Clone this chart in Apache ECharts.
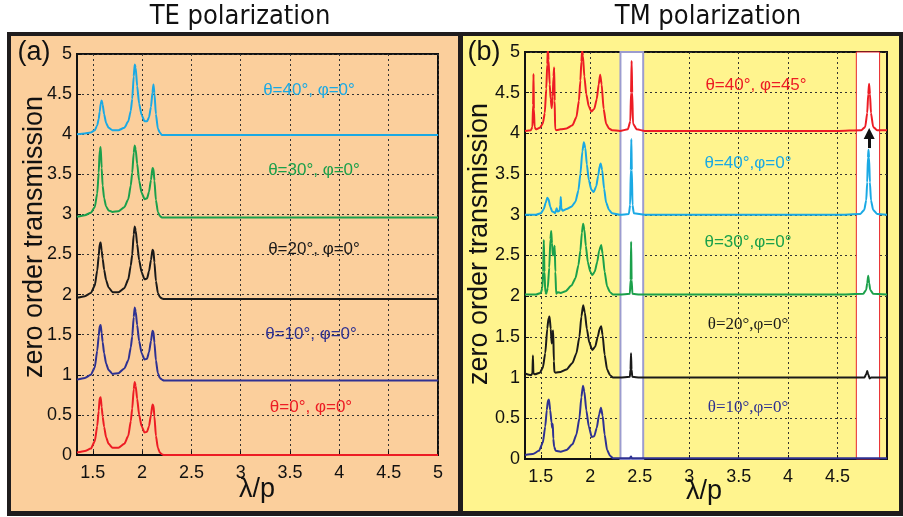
<!DOCTYPE html>
<html>
<head>
<meta charset="utf-8">
<script src="https://cdn.jsdelivr.net/npm/echarts@6/dist/echarts.min.js"></script>
<style>
  html, body { margin: 0; padding: 0; background: #fff; }
  #chart { width: 903px; height: 517px; }
</style>
</head>
<body>
<div id="chart"></div>
<script>
// ---- data ----
// tick labels
const teTicks = [1.5, 2, 2.5, 3, 3.5, 4, 4.5, 5];
const tmTicks = [1.5, 2, 2.5, 3, 3.5, 4, 4.5];

// TE panel: shared wavelength samples (lambda/p)
const teX = [1.34, 1.42, 1.48, 1.52, 1.545, 1.56, 1.57, 1.58, 1.59, 1.60, 1.615, 1.635, 1.66,
  1.70, 1.76, 1.82, 1.86, 1.885, 1.90, 1.915, 1.925, 1.935, 1.95,
  1.97, 1.995, 2.025, 2.05, 2.07, 2.09, 2.105, 2.115, 2.125, 2.14,
  2.16, 2.18, 2.20, 2.22, 2.5, 3, 3.5, 4, 4.5, 5];
const teTheta0 = [0.03, 0.05, 0.08, 0.17, 0.36, 0.55, 0.71, 0.72, 0.60, 0.48, 0.35, 0.22, 0.14,
  0.09, 0.09, 0.14, 0.24, 0.42, 0.58, 0.82, 0.91, 0.86, 0.70,
  0.50, 0.36, 0.28, 0.29, 0.36, 0.50, 0.63, 0.62, 0.48, 0.24,
  0.09, 0.03, 0.01, 0, 0, 0, 0, 0, 0, 0];
const teTheta10 = [0.94, 0.96, 1.00, 1.09, 1.30, 1.48, 1.61, 1.62, 1.52, 1.41, 1.27, 1.14, 1.06,
  1.01, 1.02, 1.08, 1.18, 1.34, 1.48, 1.72, 1.84, 1.79, 1.62,
  1.42, 1.27, 1.19, 1.20, 1.28, 1.42, 1.55, 1.54, 1.40, 1.18,
  1.02, 0.96, 0.94, 0.93, 0.93, 0.93, 0.93, 0.93, 0.93, 0.93];
const teTheta20 = [1.96, 1.98, 2.02, 2.11, 2.30, 2.48, 2.63, 2.65, 2.55, 2.45, 2.31, 2.18, 2.09,
  2.03, 2.03, 2.08, 2.19, 2.36, 2.50, 2.75, 2.85, 2.80, 2.63,
  2.43, 2.28, 2.19, 2.20, 2.29, 2.43, 2.56, 2.55, 2.40, 2.17,
  2.02, 1.97, 1.95, 1.945, 1.945, 1.945, 1.945, 1.945, 1.945, 1.945];
const teTheta30 = [2.97, 2.99, 3.02, 3.09, 3.26, 3.52, 3.80, 3.84, 3.58, 3.36, 3.20, 3.10, 3.05,
  3.03, 3.04, 3.09, 3.19, 3.36, 3.52, 3.77, 3.86, 3.81, 3.63,
  3.42, 3.27, 3.19, 3.20, 3.28, 3.43, 3.58, 3.57, 3.42, 3.18,
  3.03, 2.98, 2.96, 2.96, 2.96, 2.96, 2.96, 2.96, 2.96, 2.96];
const teTheta40 = [4.00, 4.01, 4.02, 4.05, 4.11, 4.19, 4.28, 4.38, 4.42, 4.37, 4.25, 4.14, 4.08,
  4.05, 4.05, 4.08, 4.16, 4.29, 4.44, 4.72, 4.87, 4.83, 4.60,
  4.38, 4.24, 4.16, 4.16, 4.21, 4.34, 4.52, 4.62, 4.51, 4.25,
  4.07, 4.02, 3.99, 3.99, 3.99, 3.99, 3.99, 3.99, 3.99, 3.99];

// TM panel: [lambda/p, transmission] pairs
const tmTheta10 = [[1.34,0.05],[1.42,0.06],[1.48,0.10],[1.52,0.20],[1.545,0.40],[1.56,0.60],[1.572,0.72],[1.582,0.73],
  [1.595,0.60],[1.608,0.45],[1.616,0.38],[1.621,0.43],[1.626,0.25],[1.635,0.15],[1.65,0.10],[1.70,0.09],[1.76,0.11],
  [1.82,0.18],[1.86,0.30],[1.89,0.50],[1.91,0.76],[1.926,0.90],[1.94,0.83],[1.96,0.60],[1.985,0.40],[2.015,0.27],
  [2.04,0.28],[2.065,0.38],[2.09,0.55],[2.108,0.63],[2.125,0.53],[2.145,0.30],[2.17,0.11],[2.20,0.04],[2.23,0.01],
  [2.40,0.01],[2.412,0.03],[2.42,0.01],[3.0,0.01],[4.0,0.01],[5.0,0.01]];
const tmTheta20 = [[1.34,1.05],[1.40,1.03],[1.415,1.05],[1.42,1.27],[1.425,1.05],[1.44,1.04],[1.49,1.06],[1.52,1.12],
  [1.545,1.30],[1.565,1.60],[1.578,1.73],[1.588,1.75],[1.60,1.60],[1.61,1.42],[1.618,1.55],[1.625,1.58],[1.632,1.20],
  [1.637,1.07],[1.65,1.06],[1.70,1.07],[1.76,1.10],[1.82,1.18],[1.86,1.30],[1.89,1.50],[1.91,1.75],[1.928,1.89],
  [1.945,1.80],[1.965,1.60],[1.99,1.43],[2.02,1.34],[2.05,1.38],[2.075,1.50],[2.095,1.60],[2.11,1.63],[2.125,1.52],
  [2.145,1.28],[2.17,1.10],[2.20,1.03],[2.23,1.00],[2.30,1.00],[2.40,1.01],[2.407,1.10],[2.412,1.30],[2.417,1.10],
  [2.425,1.01],[2.50,1.00],[3.0,1.00],[3.5,1.00],[4.0,1.00],[4.5,1.00],[4.77,1.00],[4.79,1.04],[4.80,1.08],
  [4.81,1.04],[4.825,0.99],[4.84,1.00],[5.0,1.00]];
const tmTheta30 = [[1.34,2.02],[1.45,2.02],[1.50,2.04],[1.515,2.10],[1.523,2.30],[1.53,2.69],[1.537,2.30],[1.545,2.05],
  [1.555,2.03],[1.57,2.10],[1.585,2.35],[1.597,2.70],[1.605,2.80],[1.613,2.65],[1.622,2.50],[1.632,2.55],[1.64,2.62],
  [1.647,2.30],[1.655,2.03],[1.67,2.05],[1.70,2.04],[1.75,2.06],[1.81,2.13],[1.85,2.22],[1.88,2.38],[1.90,2.56],
  [1.915,2.78],[1.928,2.89],[1.94,2.82],[1.955,2.62],[1.975,2.42],[2.00,2.30],[2.02,2.26],[2.045,2.30],[2.07,2.42],
  [2.09,2.56],[2.11,2.63],[2.125,2.52],[2.145,2.30],[2.17,2.12],[2.20,2.05],[2.23,2.02],[2.30,2.02],[2.40,2.03],
  [2.408,2.20],[2.413,2.67],[2.418,2.20],[2.426,2.03],[2.50,2.02],[3.0,2.02],[3.5,2.02],[4.0,2.02],[4.5,2.02],
  [4.76,2.03],[4.79,2.08],[4.80,2.16],[4.81,2.25],[4.82,2.16],[4.83,2.08],[4.86,2.03],[5.0,2.02]];
const tmTheta40 = [[1.34,3.00],[1.45,3.00],[1.50,3.02],[1.53,3.07],[1.55,3.15],[1.565,3.21],[1.578,3.19],[1.595,3.10],
  [1.615,3.04],[1.635,3.03],[1.645,3.02],[1.66,3.08],[1.67,3.04],[1.69,3.05],[1.697,3.12],[1.702,3.22],[1.707,3.08],
  [1.72,3.05],[1.76,3.07],[1.81,3.10],[1.85,3.16],[1.88,3.30],[1.90,3.50],[1.92,3.78],[1.935,3.89],[1.95,3.82],
  [1.965,3.62],[1.985,3.43],[2.01,3.31],[2.035,3.28],[2.06,3.35],[2.08,3.48],[2.095,3.60],[2.105,3.63],[2.12,3.55],
  [2.14,3.32],[2.16,3.15],[2.19,3.06],[2.22,3.02],[2.30,3.00],[2.39,3.01],[2.403,3.12],[2.41,3.55],[2.415,3.93],
  [2.42,3.55],[2.427,3.12],[2.44,3.02],[2.55,3.00],[3.0,3.00],[3.5,3.00],[4.0,3.00],[4.5,3.00],[4.73,3.01],
  [4.77,3.06],[4.79,3.18],[4.80,3.40],[4.807,3.70],[4.813,3.80],[4.819,3.70],[4.827,3.40],[4.838,3.18],[4.86,3.06],
  [4.90,3.01],[5.0,3.00]];
const tmTheta40phi45 = [[1.34,4.03],[1.40,4.04],[1.415,4.08],[1.422,4.35],[1.426,4.73],[1.430,4.30],[1.437,4.08],
  [1.45,4.05],[1.49,4.07],[1.52,4.12],[1.54,4.25],[1.555,4.55],[1.565,4.85],[1.571,5.05],[1.578,4.90],[1.59,4.60],
  [1.60,4.42],[1.61,4.31],[1.62,4.45],[1.628,4.70],[1.635,4.81],[1.640,4.40],[1.645,4.05],[1.66,4.04],[1.70,4.05],
  [1.76,4.06],[1.82,4.10],[1.86,4.20],[1.885,4.40],[1.90,4.65],[1.91,4.88],[1.918,5.02],[1.926,4.95],[1.94,4.70],
  [1.96,4.48],[1.985,4.33],[2.01,4.27],[2.04,4.30],[2.065,4.42],[2.085,4.60],[2.10,4.72],[2.115,4.60],[2.135,4.30],
  [2.16,4.12],[2.19,4.06],[2.22,4.04],[2.30,4.03],[2.38,4.05],[2.405,4.15],[2.412,4.50],[2.418,4.89],[2.424,4.50],
  [2.432,4.12],[2.47,4.05],[2.55,4.03],[3.0,4.03],[3.5,4.03],[4.0,4.03],[4.5,4.03],[4.74,4.04],[4.78,4.08],
  [4.80,4.25],[4.81,4.48],[4.819,4.61],[4.828,4.48],[4.838,4.25],[4.86,4.08],[4.90,4.04],[5.0,4.04]];

// highlighted wavelength bands and the arrow in panel (b)
const blueBand = [2.305, 2.535];
const redBand = [4.69, 4.925];
const arrowLine = [[4.82, 3.82], [4.82, 4.0]];

// ---- chart ----
const chart = echarts.init(document.getElementById('chart'), null, { renderer: 'canvas' });

const FONT = "'Liberation Sans', Arial, sans-serif";
const NARROW = "'Liberation Sans Narrow', 'DejaVu Sans Condensed', sans-serif";
const C = { red: '#ed1c24', cyan: '#1aa9e4', green: '#1ba04b', black: '#1a1a1a', navy: '#2e3192' };

const zip = (xs, ys) => xs.map((x, i) => [x, ys[i]]);

function xAx(grid, ticks) {
  return {
    type: 'value', gridIndex: grid, min: 1.34, max: 5,
    axisLine: { show: true, onZero: false, lineStyle: { color: '#111', width: 2 } },
    axisTick: { show: true, inside: true, length: 4, customValues: ticks, lineStyle: { color: '#111' } },
    axisLabel: { customValues: ticks, color: '#111', fontSize: 18, fontFamily: FONT, margin: 9 },
    splitLine: { show: true, lineStyle: { color: '#333', width: 1, type: [2, 3] } }
  };
}
function yAx(grid) {
  return {
    type: 'value', gridIndex: grid, min: 0, max: 5, interval: 0.5,
    axisLine: { show: true, lineStyle: { color: '#111', width: 2 } },
    axisTick: { show: true, inside: true, length: 4, lineStyle: { color: '#111' } },
    axisLabel: { color: '#111', fontSize: 18, fontFamily: FONT, margin: 5 },
    splitLine: { show: true, lineStyle: { color: '#333', width: 1, type: [2, 3] } }
  };
}
function line(grid, data, color, extra) {
  return Object.assign({
    type: 'line', xAxisIndex: grid, yAxisIndex: grid, data: data,
    showSymbol: false, symbol: 'none', smooth: 0.2, smoothMonotone: 'x',
    lineStyle: { color: color, width: 2 }, itemStyle: { color: color },
    silent: true, z: 3
  }, extra || {});
}

function label(x, y, text, color, family) {
  return {
    type: 'text', x: x, y: y, z: 100,
    style: { text: text, fill: color, fontSize: 17, fontFamily: family || FONT, align: 'center', verticalAlign: 'middle' }
  };
}
function bigText(x, y, text, font, rot) {
  return {
    type: 'text', x: x, y: y, z: 100, rotation: rot || 0,
    style: { text: text, fill: '#111', fontSize: 27, fontFamily: font || FONT, align: 'center', verticalAlign: 'middle' }
  };
}

const option = {
  animation: false,
  backgroundColor: '#fff',
  grid: [
    { left: 77, top: 54, width: 361, height: 401, show: true, borderColor: '#111', borderWidth: 2, backgroundColor: 'transparent', outerBoundsMode: 'none' },
    { left: 525, top: 52, width: 362, height: 407, show: true, borderColor: '#111', borderWidth: 2, backgroundColor: 'transparent', outerBoundsMode: 'none' }
  ],
  xAxis: [xAx(0, teTicks), xAx(1, tmTicks)],
  yAxis: [yAx(0), yAx(1)],
  series: [
    line(0, zip(teX, teTheta0), C.red),
    line(0, zip(teX, teTheta10), C.navy),
    line(0, zip(teX, teTheta20), C.black),
    line(0, zip(teX, teTheta30), C.green),
    line(0, zip(teX, teTheta40), C.cyan),
    {
      type: 'line', xAxisIndex: 1, yAxisIndex: 1, data: [], silent: true, z: 1,
      markArea: {
        silent: true,
        label: { show: false },
        data: [
          [{ xAxis: blueBand[0], itemStyle: { color: '#ffffff', borderColor: '#9c9ccf', borderWidth: 2 } }, { xAxis: blueBand[1] }],
          [{ xAxis: redBand[0], itemStyle: { color: '#ffffff', borderColor: '#e8262d', borderWidth: 1 } }, { xAxis: redBand[1] }]
        ]
      }
    },
    line(1, tmTheta10, C.navy),
    line(1, tmTheta20, C.black),
    line(1, tmTheta30, C.green),
    line(1, tmTheta40, C.cyan),
    line(1, tmTheta40phi45, C.red, {
      markLine: {
        silent: true, symbol: ['none', 'triangle'], symbolSize: 11,
        label: { show: false },
        lineStyle: { color: '#111', width: 3, type: 'solid' },
        itemStyle: { color: '#111' },
        data: [[{ coord: arrowLine[0] }, { coord: arrowLine[1] }]]
      }
    })
  ],
  graphic: [
    // frame and panel backgrounds
    { type: 'rect', z: -10, shape: { x: 7, y: 32, width: 896, height: 484 }, style: { fill: '#1f1c1d' } },
    { type: 'rect', z: -9, shape: { x: 11, y: 36, width: 447, height: 475 }, style: { fill: '#fbcf9c' } },
    { type: 'rect', z: -9, shape: { x: 463, y: 36, width: 436, height: 475 }, style: { fill: '#fff48e' } },
    // titles
    bigText(240, 17, 'TE polarization', NARROW),
    bigText(708, 17, 'TM polarization', NARROW),
    // panel letters
    bigText(34, 53, '(a)'),
    bigText(484, 53, '(b)'),
    // axis names
    bigText(35, 237, 'zero order transmission', FONT, Math.PI / 2),
    bigText(480, 244, 'zero order transmission', FONT, Math.PI / 2),
    bigText(257, 490, 'λ/p'),
    bigText(704, 492, 'λ/p'),
    // curve labels, panel (a)
    label(309, 90, 'θ=40°, φ=0°', C.cyan),
    label(314, 170, 'θ=30°, φ=0°', C.green),
    label(314, 249, 'θ=20°, φ=0°', C.black),
    label(311, 334, 'θ=10°, φ=0°', C.navy),
    label(311, 407, 'θ=0°, φ=0°', C.red),
    // curve labels, panel (b)
    label(756, 85, 'θ=40°, φ=45°', C.red),
    label(748, 163, 'θ=40°,φ=0°', C.cyan),
    label(748, 242, 'θ=30°,φ=0°', C.green),
    label(748, 325, 'θ=20°,φ=0°', C.black, "'Liberation Serif', serif"),
    label(748, 408, 'θ=10°,φ=0°', C.navy, "'Liberation Serif', serif")
  ]
};

chart.setOption(option);
</script>
</body>
</html>
